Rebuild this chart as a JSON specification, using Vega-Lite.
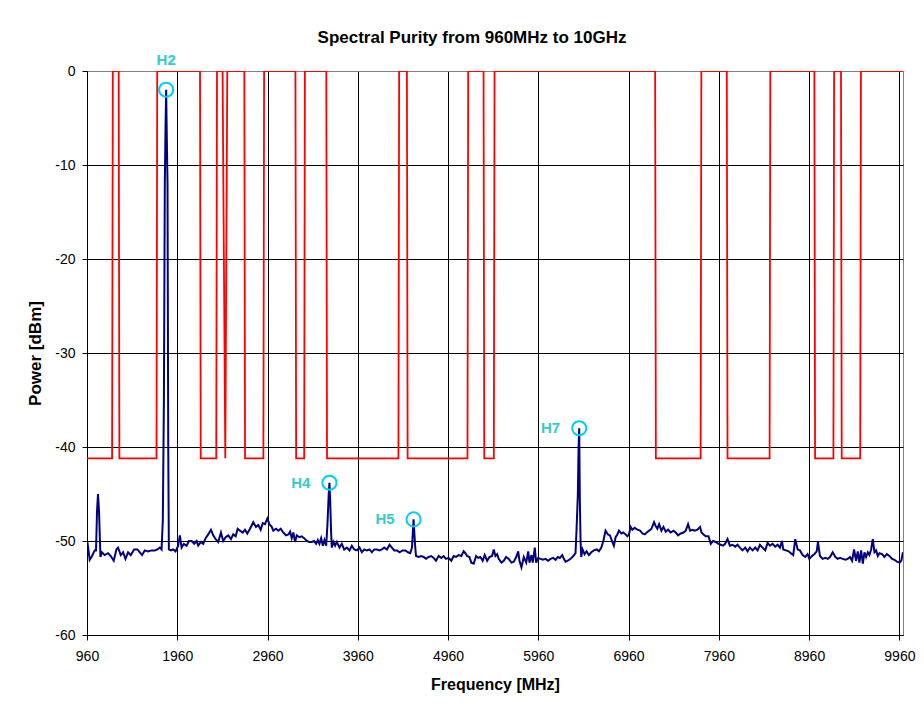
{
  "$schema": "https://vega.github.io/schema/vega-lite/v6.json",
  "width": 816,
  "height": 564,
  "autosize": "none",
  "padding": {"left": 87, "top": 71, "right": 21, "bottom": 74},
  "background": "white",
  "title": {
    "text": "Spectral Purity from 960MHz to 10GHz",
    "fontSize": 17,
    "fontWeight": "bold",
    "color": "black",
    "anchor": "middle",
    "dx": -23,
    "offset": 6
  },
  "config": {
    "font": "Liberation Sans",
    "view": {"stroke": "#808080", "strokeWidth": 1}
  },
  "datasets": {
    "mask": [
      {"f": 960, "db": -41.2}, {"f": 1238, "db": -41.2}, {"f": 1246, "db": 0},
      {"f": 1311, "db": 0}, {"f": 1319, "db": -41.2},
      {"f": 1730, "db": -41.2}, {"f": 1738, "db": 0},
      {"f": 2212, "db": 0}, {"f": 2220, "db": -41.2},
      {"f": 2392, "db": -41.2}, {"f": 2400, "db": 0},
      {"f": 2462, "db": 0}, {"f": 2492, "db": -41.2}, {"f": 2514, "db": 0},
      {"f": 2703, "db": 0}, {"f": 2711, "db": -41.2},
      {"f": 2914, "db": -41.2}, {"f": 2922, "db": 0},
      {"f": 3269, "db": 0}, {"f": 3277, "db": -41.2},
      {"f": 3366, "db": -41.2}, {"f": 3374, "db": 0},
      {"f": 3611, "db": 0}, {"f": 3619, "db": -41.2},
      {"f": 4410, "db": -41.2}, {"f": 4418, "db": 0},
      {"f": 4504, "db": 0}, {"f": 4512, "db": -41.2},
      {"f": 5175, "db": -41.2}, {"f": 5183, "db": 0},
      {"f": 5353, "db": 0}, {"f": 5361, "db": -41.2},
      {"f": 5467, "db": -41.2}, {"f": 5475, "db": 0},
      {"f": 7254, "db": 0}, {"f": 7262, "db": -41.2},
      {"f": 7758, "db": -41.2}, {"f": 7766, "db": 0},
      {"f": 8048, "db": 0}, {"f": 8056, "db": -41.2},
      {"f": 8522, "db": -41.2}, {"f": 8530, "db": 0},
      {"f": 9018, "db": 0}, {"f": 9026, "db": -41.2},
      {"f": 9229, "db": -41.2}, {"f": 9237, "db": 0},
      {"f": 9313, "db": 0}, {"f": 9321, "db": -41.2},
      {"f": 9526, "db": -41.2}, {"f": 9534, "db": 0},
      {"f": 10000, "db": 0}
    ],
    "trace": [
      {"f": 964, "db": -50.1}, {"f": 990, "db": -52.0}, {"f": 1016, "db": -51.6}, {"f": 1045, "db": -51.0},
      {"f": 1060, "db": -51.0}, {"f": 1071, "db": -46.8}, {"f": 1082, "db": -45.0}, {"f": 1093, "db": -46.8},
      {"f": 1109, "db": -51.7}, {"f": 1126, "db": -51.2}, {"f": 1156, "db": -51.5}, {"f": 1193, "db": -51.3},
      {"f": 1223, "db": -51.6}, {"f": 1256, "db": -52.1}, {"f": 1286, "db": -50.9}, {"f": 1304, "db": -50.7},
      {"f": 1334, "db": -51.5}, {"f": 1360, "db": -51.2}, {"f": 1386, "db": -51.9}, {"f": 1415, "db": -51.2},
      {"f": 1445, "db": -51.5}, {"f": 1482, "db": -50.9}, {"f": 1519, "db": -50.9}, {"f": 1545, "db": -51.2},
      {"f": 1570, "db": -51.5}, {"f": 1600, "db": -51.0}, {"f": 1637, "db": -51.1}, {"f": 1675, "db": -51.0},
      {"f": 1711, "db": -51.0}, {"f": 1741, "db": -50.9}, {"f": 1767, "db": -50.7}, {"f": 1786, "db": -50.9},
      {"f": 1800, "db": -47.8}, {"f": 1812, "db": -35}, {"f": 1822, "db": -12}, {"f": 1830, "db": -6},
      {"f": 1837, "db": -2}, {"f": 1844, "db": -7}, {"f": 1852, "db": -12}, {"f": 1860, "db": -40},
      {"f": 1867, "db": -50.9}, {"f": 1889, "db": -51.0}, {"f": 1915, "db": -50.9}, {"f": 1941, "db": -51.1},
      {"f": 1970, "db": -50.5}, {"f": 1989, "db": -49.4}, {"f": 2008, "db": -50.7}, {"f": 2033, "db": -50.3},
      {"f": 2063, "db": -50.5}, {"f": 2089, "db": -50.0}, {"f": 2119, "db": -50.0}, {"f": 2148, "db": -50.3},
      {"f": 2174, "db": -50.0}, {"f": 2192, "db": -50.5}, {"f": 2222, "db": -50.1}, {"f": 2247, "db": -50.3},
      {"f": 2274, "db": -49.7}, {"f": 2303, "db": -49.3}, {"f": 2333, "db": -48.8}, {"f": 2358, "db": -49.4},
      {"f": 2385, "db": -49.8}, {"f": 2414, "db": -50.1}, {"f": 2444, "db": -49.1}, {"f": 2469, "db": -50.0},
      {"f": 2496, "db": -49.6}, {"f": 2525, "db": -49.4}, {"f": 2555, "db": -49.8}, {"f": 2580, "db": -49.3},
      {"f": 2607, "db": -49.5}, {"f": 2629, "db": -48.7}, {"f": 2655, "db": -48.9}, {"f": 2685, "db": -49.1},
      {"f": 2710, "db": -48.8}, {"f": 2736, "db": -49.2}, {"f": 2766, "db": -48.7}, {"f": 2802, "db": -48.0},
      {"f": 2832, "db": -48.5}, {"f": 2858, "db": -48.3}, {"f": 2884, "db": -48.8}, {"f": 2907, "db": -48.1},
      {"f": 2932, "db": -48.2}, {"f": 2958, "db": -47.6}, {"f": 2980, "db": -48.2}, {"f": 3006, "db": -48.5},
      {"f": 3024, "db": -48.9}, {"f": 3054, "db": -48.7}, {"f": 3080, "db": -48.9}, {"f": 3106, "db": -48.7},
      {"f": 3135, "db": -49.1}, {"f": 3165, "db": -49.4}, {"f": 3191, "db": -49.3}, {"f": 3210, "db": -49.0},
      {"f": 3228, "db": -49.7}, {"f": 3246, "db": -49.1}, {"f": 3265, "db": -50.1}, {"f": 3284, "db": -49.4},
      {"f": 3313, "db": -49.6}, {"f": 3339, "db": -49.5}, {"f": 3365, "db": -49.7}, {"f": 3395, "db": -50.0},
      {"f": 3424, "db": -50.1}, {"f": 3450, "db": -50.1}, {"f": 3476, "db": -50.0}, {"f": 3498, "db": -50.3},
      {"f": 3517, "db": -49.9}, {"f": 3535, "db": -50.3}, {"f": 3554, "db": -49.7}, {"f": 3573, "db": -50.5},
      {"f": 3591, "db": -49.9}, {"f": 3610, "db": -50.5}, {"f": 3624, "db": -48.2}, {"f": 3638, "db": -45.0},
      {"f": 3646, "db": -43.8}, {"f": 3655, "db": -46}, {"f": 3664, "db": -49}, {"f": 3672, "db": -50.7},
      {"f": 3690, "db": -50.1}, {"f": 3709, "db": -50.5}, {"f": 3728, "db": -50.1}, {"f": 3757, "db": -50.7},
      {"f": 3783, "db": -50.3}, {"f": 3809, "db": -50.9}, {"f": 3839, "db": -50.7}, {"f": 3868, "db": -51.0},
      {"f": 3894, "db": -50.5}, {"f": 3920, "db": -50.9}, {"f": 3950, "db": -51.0}, {"f": 3979, "db": -50.7},
      {"f": 4005, "db": -51.2}, {"f": 4031, "db": -50.9}, {"f": 4061, "db": -51.0}, {"f": 4090, "db": -50.9},
      {"f": 4116, "db": -51.2}, {"f": 4142, "db": -50.9}, {"f": 4172, "db": -50.9}, {"f": 4201, "db": -51.0},
      {"f": 4227, "db": -50.9}, {"f": 4253, "db": -50.7}, {"f": 4283, "db": -50.9}, {"f": 4312, "db": -50.4},
      {"f": 4338, "db": -50.7}, {"f": 4364, "db": -51.0}, {"f": 4394, "db": -51.0}, {"f": 4423, "db": -51.2},
      {"f": 4456, "db": -51.0}, {"f": 4486, "db": -51.0}, {"f": 4516, "db": -51.2}, {"f": 4541, "db": -51.3},
      {"f": 4560, "db": -50.7}, {"f": 4571, "db": -48.9}, {"f": 4578, "db": -47.7}, {"f": 4585, "db": -48.9},
      {"f": 4595, "db": -50.5}, {"f": 4605, "db": -51.6}, {"f": 4634, "db": -51.7}, {"f": 4663, "db": -51.6},
      {"f": 4689, "db": -51.7}, {"f": 4716, "db": -51.9}, {"f": 4745, "db": -51.7}, {"f": 4774, "db": -51.6},
      {"f": 4800, "db": -51.8}, {"f": 4826, "db": -52.1}, {"f": 4855, "db": -51.6}, {"f": 4885, "db": -51.8},
      {"f": 4911, "db": -51.6}, {"f": 4937, "db": -51.9}, {"f": 4966, "db": -51.8}, {"f": 4996, "db": -52.1},
      {"f": 5022, "db": -51.6}, {"f": 5048, "db": -51.7}, {"f": 5077, "db": -51.5}, {"f": 5107, "db": -51.6},
      {"f": 5133, "db": -51.1}, {"f": 5152, "db": -51.3}, {"f": 5171, "db": -51.6}, {"f": 5196, "db": -51.7},
      {"f": 5218, "db": -52.3}, {"f": 5244, "db": -52.4}, {"f": 5271, "db": -51.6}, {"f": 5293, "db": -51.8},
      {"f": 5318, "db": -51.7}, {"f": 5344, "db": -52.1}, {"f": 5366, "db": -51.5}, {"f": 5393, "db": -52.1},
      {"f": 5418, "db": -51.7}, {"f": 5448, "db": -51.6}, {"f": 5466, "db": -50.9}, {"f": 5485, "db": -51.6},
      {"f": 5504, "db": -51.4}, {"f": 5521, "db": -51.9}, {"f": 5551, "db": -52.3}, {"f": 5577, "db": -52.1},
      {"f": 5603, "db": -51.7}, {"f": 5632, "db": -51.9}, {"f": 5662, "db": -52.3}, {"f": 5688, "db": -52.2},
      {"f": 5715, "db": -51.7}, {"f": 5737, "db": -51.1}, {"f": 5751, "db": -52.1}, {"f": 5773, "db": -52.8},
      {"f": 5799, "db": -51.7}, {"f": 5826, "db": -52.3}, {"f": 5848, "db": -51.1}, {"f": 5862, "db": -52.3},
      {"f": 5884, "db": -51.5}, {"f": 5898, "db": -52.3}, {"f": 5921, "db": -50.7}, {"f": 5936, "db": -52.3},
      {"f": 5958, "db": -51.8}, {"f": 5984, "db": -51.9}, {"f": 6010, "db": -52.0}, {"f": 6040, "db": -51.9},
      {"f": 6069, "db": -52.1}, {"f": 6095, "db": -51.9}, {"f": 6125, "db": -51.8}, {"f": 6151, "db": -52.0},
      {"f": 6176, "db": -51.7}, {"f": 6198, "db": -51.8}, {"f": 6225, "db": -51.5}, {"f": 6243, "db": -51.9},
      {"f": 6262, "db": -52.2}, {"f": 6287, "db": -52.1}, {"f": 6317, "db": -51.9}, {"f": 6347, "db": -51.6},
      {"f": 6372, "db": -51.3}, {"f": 6383, "db": -48.9}, {"f": 6398, "db": -45.0}, {"f": 6406, "db": -40},
      {"f": 6413, "db": -38.0}, {"f": 6420, "db": -45.7}, {"f": 6428, "db": -50}, {"f": 6435, "db": -51.7},
      {"f": 6450, "db": -50.9}, {"f": 6472, "db": -51.4}, {"f": 6494, "db": -51.1}, {"f": 6520, "db": -51.5},
      {"f": 6547, "db": -51.2}, {"f": 6576, "db": -51.0}, {"f": 6606, "db": -50.9}, {"f": 6631, "db": -51.1},
      {"f": 6658, "db": -50.7}, {"f": 6680, "db": -50.0}, {"f": 6705, "db": -48.9}, {"f": 6731, "db": -49.3},
      {"f": 6753, "db": -49.4}, {"f": 6780, "db": -50.1}, {"f": 6797, "db": -50.5}, {"f": 6816, "db": -49.6},
      {"f": 6835, "db": -49.3}, {"f": 6853, "db": -48.9}, {"f": 6880, "db": -49.2}, {"f": 6902, "db": -49.1},
      {"f": 6927, "db": -49.3}, {"f": 6946, "db": -49.5}, {"f": 6964, "db": -49.3}, {"f": 6983, "db": -48.5},
      {"f": 7002, "db": -48.8}, {"f": 7027, "db": -48.6}, {"f": 7057, "db": -48.8}, {"f": 7087, "db": -48.9},
      {"f": 7113, "db": -49.2}, {"f": 7139, "db": -49.3}, {"f": 7161, "db": -49.1}, {"f": 7186, "db": -48.9},
      {"f": 7213, "db": -48.7}, {"f": 7242, "db": -48.0}, {"f": 7260, "db": -48.4}, {"f": 7279, "db": -48.7},
      {"f": 7298, "db": -48.2}, {"f": 7324, "db": -48.9}, {"f": 7346, "db": -48.5}, {"f": 7372, "db": -49.0},
      {"f": 7397, "db": -48.8}, {"f": 7427, "db": -49.1}, {"f": 7457, "db": -48.9}, {"f": 7482, "db": -49.1},
      {"f": 7508, "db": -49.4}, {"f": 7538, "db": -49.2}, {"f": 7568, "db": -49.1}, {"f": 7593, "db": -48.9},
      {"f": 7619, "db": -48.2}, {"f": 7641, "db": -48.9}, {"f": 7668, "db": -48.8}, {"f": 7693, "db": -48.9},
      {"f": 7723, "db": -48.8}, {"f": 7752, "db": -48.5}, {"f": 7768, "db": -49.1}, {"f": 7790, "db": -49.3},
      {"f": 7815, "db": -49.5}, {"f": 7845, "db": -49.5}, {"f": 7871, "db": -50.3}, {"f": 7896, "db": -50.0},
      {"f": 7926, "db": -50.1}, {"f": 7956, "db": -50.3}, {"f": 7982, "db": -50.4}, {"f": 8007, "db": -50.5},
      {"f": 8029, "db": -50.3}, {"f": 8056, "db": -49.8}, {"f": 8082, "db": -50.5}, {"f": 8111, "db": -50.4},
      {"f": 8141, "db": -50.6}, {"f": 8167, "db": -50.4}, {"f": 8193, "db": -50.7}, {"f": 8222, "db": -51.0},
      {"f": 8252, "db": -50.7}, {"f": 8278, "db": -51.1}, {"f": 8304, "db": -50.7}, {"f": 8334, "db": -51.0},
      {"f": 8363, "db": -50.7}, {"f": 8389, "db": -51.0}, {"f": 8415, "db": -50.4}, {"f": 8444, "db": -50.7},
      {"f": 8474, "db": -51.0}, {"f": 8500, "db": -50.2}, {"f": 8526, "db": -50.5}, {"f": 8555, "db": -50.3},
      {"f": 8585, "db": -50.6}, {"f": 8611, "db": -50.4}, {"f": 8637, "db": -50.7}, {"f": 8659, "db": -50.0},
      {"f": 8673, "db": -50.9}, {"f": 8703, "db": -51.0}, {"f": 8733, "db": -51.1}, {"f": 8758, "db": -51.3},
      {"f": 8784, "db": -51.5}, {"f": 8806, "db": -49.8}, {"f": 8833, "db": -50.9}, {"f": 8858, "db": -51.0},
      {"f": 8888, "db": -51.5}, {"f": 8917, "db": -51.7}, {"f": 8943, "db": -51.4}, {"f": 8962, "db": -51.9},
      {"f": 8992, "db": -51.6}, {"f": 9017, "db": -51.4}, {"f": 9044, "db": -51.1}, {"f": 9058, "db": -50.1},
      {"f": 9080, "db": -51.6}, {"f": 9110, "db": -51.9}, {"f": 9140, "db": -51.8}, {"f": 9166, "db": -51.9},
      {"f": 9191, "db": -51.7}, {"f": 9221, "db": -51.2}, {"f": 9251, "db": -51.7}, {"f": 9277, "db": -51.9},
      {"f": 9302, "db": -51.8}, {"f": 9332, "db": -51.9}, {"f": 9362, "db": -52.0}, {"f": 9388, "db": -51.9},
      {"f": 9413, "db": -51.7}, {"f": 9436, "db": -52.1}, {"f": 9458, "db": -50.9}, {"f": 9480, "db": -52.1},
      {"f": 9499, "db": -51.1}, {"f": 9517, "db": -52.3}, {"f": 9536, "db": -51.0}, {"f": 9555, "db": -52.4},
      {"f": 9573, "db": -51.2}, {"f": 9591, "db": -51.7}, {"f": 9610, "db": -51.2}, {"f": 9628, "db": -51.5},
      {"f": 9647, "db": -50.9}, {"f": 9665, "db": -49.8}, {"f": 9684, "db": -51.2}, {"f": 9702, "db": -51.0},
      {"f": 9721, "db": -51.6}, {"f": 9739, "db": -51.3}, {"f": 9768, "db": -51.4}, {"f": 9794, "db": -51.7},
      {"f": 9821, "db": -51.4}, {"f": 9850, "db": -51.6}, {"f": 9880, "db": -51.9}, {"f": 9906, "db": -52.0},
      {"f": 9933, "db": -52.2}, {"f": 9962, "db": -52.3}, {"f": 9981, "db": -52.1}, {"f": 9999, "db": -51.2}
    ],
    "harmonics": [
      {"name": "H2", "f": 1837, "db": -2},
      {"name": "H4", "f": 3646, "db": -43.8},
      {"name": "H5", "f": 4578, "db": -47.7},
      {"name": "H7", "f": 6413, "db": -38.0}
    ]
  },
  "encoding": {
    "x": {
      "field": "f",
      "type": "quantitative",
      "scale": {"domain": [960, 10000], "nice": false, "zero": false},
      "axis": {
        "title": "Frequency [MHz]",
        "values": [960, 1960, 2960, 3960, 4960, 5960, 6960, 7960, 8960, 9960],
        "format": "d",
        "labelFontSize": 14,
        "labelColor": "black",
        "labelPadding": 9,
        "labelFlush": false,
        "tickSize": 5,
        "tickColor": "black",
        "domainColor": "black",
        "grid": true,
        "gridColor": "black",
        "gridOpacity": 1,
        "titleFontSize": 16,
        "titleFontWeight": "bold",
        "titleColor": "black",
        "titlePadding": 13
      }
    },
    "y": {
      "field": "db",
      "type": "quantitative",
      "scale": {"domain": [-60, 0], "nice": false, "zero": false},
      "axis": {
        "title": "Power [dBm]",
        "values": [-60, -50, -40, -30, -20, -10, 0],
        "labelExpr": "'' + datum.value",
        "labelFontSize": 14,
        "labelColor": "black",
        "labelPadding": 7,
        "tickSize": 5,
        "tickColor": "black",
        "domainColor": "black",
        "grid": true,
        "gridColor": {"condition": {"test": "datum.value == 0", "value": "#808080"}, "value": "black"},
        "gridOpacity": 1,
        "titleFontSize": 17,
        "titleFontWeight": "bold",
        "titleColor": "black",
        "titlePadding": 10
      }
    }
  },
  "layer": [
    {
      "data": {"name": "mask"},
      "mark": {"type": "line", "color": "#FF0000", "strokeWidth": 1.8, "clip": true}
    },
    {
      "data": {"name": "trace"},
      "mark": {"type": "line", "color": "#000080", "strokeWidth": 2, "clip": true}
    },
    {
      "data": {"name": "harmonics"},
      "mark": {"type": "point", "shape": "circle", "filled": false, "size": 200, "stroke": "#00CCFF", "strokeWidth": 2, "opacity": 1}
    },
    {
      "data": {"name": "harmonics"},
      "transform": [{"filter": "datum.name == 'H2'"}],
      "mark": {"type": "text", "align": "center", "baseline": "middle", "dy": -30, "fontSize": 15, "fontWeight": "bold", "color": "#33CCCC"},
      "encoding": {"text": {"field": "name", "type": "nominal"}}
    },
    {
      "data": {"name": "harmonics"},
      "transform": [{"filter": "datum.name != 'H2'"}],
      "mark": {"type": "text", "align": "right", "baseline": "middle", "dx": -19, "fontSize": 15, "fontWeight": "bold", "color": "#33CCCC"},
      "encoding": {"text": {"field": "name", "type": "nominal"}}
    }
  ]
}
